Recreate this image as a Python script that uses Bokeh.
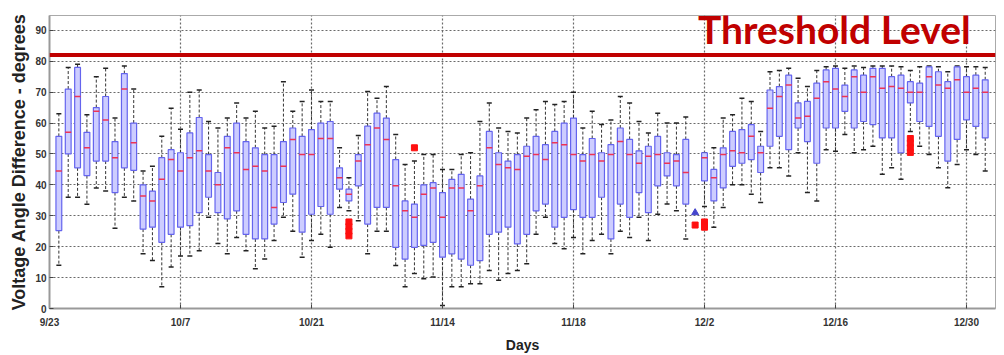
from bokeh.plotting import figure
from bokeh.models import Span, Label, FixedTicker, Range1d
from bokeh.embed import file_html
from bokeh.resources import INLINE

# Day index (0 = 9/23)
days = [1, 2, 3, 4, 5, 6, 7, 8, 9, 10, 11, 12, 13, 14, 15, 16, 17, 18, 19, 20,
        21, 22, 23, 24, 25, 26, 27, 28, 29, 30, 31, 32, 33, 34, 35, 36, 37, 38, 39, 40,
        41, 42, 43, 44, 45, 46, 47, 48, 49, 50, 51, 52, 53, 54, 55, 56, 57, 58, 59, 60,
        61, 62, 63, 64, 65, 66, 67, 68, 70, 71, 72, 73, 74, 75, 76, 77, 78, 79, 80,
        81, 82, 83, 84, 85, 86, 87, 88, 89, 90, 91, 92, 93, 94, 95, 96, 97, 98, 99, 100]
q1 = [25.2, 50, 45.5, 43, 47.7, 47.7, 37.5, 45.5, 44.7, 25.7, 26.3, 21.4, 24, 26.3, 26.8, 31, 36, 31, 29, 31.6,
      24, 22.5, 22.5, 27.3, 34.3, 37, 24.7, 30.5, 33, 30.5, 38.6, 34.8, 39.7, 27.3, 32.7, 32.7, 19.8, 16, 19.8, 20.4,
      21.4, 16.6, 17.7, 16, 14, 15.5, 24, 24.7, 26.3, 20.9, 24, 31.6, 33.8, 26.3, 29.5, 32, 29.5, 29.5, 36, 22.5,
      33.8, 29.5, 37.5, 31, 39.7, 42.9, 39.7, 33.8, 41.3, 34.8, 39, 46, 47, 48.2, 44, 52.5, 55.7, 51.4, 58.4,
      54, 47, 58.4, 58.4, 63.8, 58.4, 60.5, 59.5, 55.2, 55.2, 50.4, 66.5, 60.5, 58.9, 55.7, 47.7, 54.7, 61, 58.9, 55.2]
med = [44.5, 57, 68.6, 52, 63.8, 61, 48.8, 71, 53.6, 36.4, 34.8, 41.8, 48.2, 44.5, 48.8, 51, 44.5, 40, 52, 50.4,
       45, 46, 44.5, 32.7, 46, 54.7, 49.8, 49.8, 55, 55, 42.3, 37, 47.7, 53, 58.4, 54.7, 39.7, 31.6, 29.5, 37,
       39, 29.5, 39, 39, 31.6, 39.7, 52, 46.6, 45.5, 45, 49.3, 49.8, 48.2, 53.6, 53, 49.8, 47.7, 49.8, 47.7, 49.8,
       54, 49.8, 47, 49.3, 49.8, 47, 47.7, 44, 48.8, 42.3, 49.8, 51, 50.4, 55.7, 50.4, 64.8, 68.6, 72.3, 61.6,
       62.2, 68, 73.4, 71, 68.6, 75, 70, 75, 71.3, 71.8, 71.3, 70, 70, 75, 72.3, 71.3, 74, 70, 71.3, 70]
q3 = [55.7, 71, 78, 57, 65, 68.6, 54, 76, 60, 40, 38, 48.8, 51.4, 50.4, 56.8, 61.8, 49.8, 44, 55.7, 60,
      54, 52, 49.8, 49.8, 54, 58.4, 55.7, 57.9, 60, 60.5, 45.5, 38.6, 49.8, 59, 63.2, 61.6, 48.2, 34.8, 33.8, 40,
      40.7, 37.5, 41.8, 43.4, 35.4, 42.9, 57.3, 50.4, 47.7, 49.8, 52.5, 55.7, 53, 57.3, 60, 61.6, 49.8, 55, 50.4, 53,
      58.4, 54.7, 51, 52.5, 55.7, 50.4, 49.8, 54.7, 50.4, 45, 52, 57.3, 57.9, 59.5, 52.5, 70.7, 71.8, 75.5, 66.5,
      67, 72.9, 77.2, 77.7, 72.3, 77.2, 75.5, 77.7, 77.7, 75, 75.5, 73.4, 72.9, 78.2, 76.6, 73.4, 78.2, 75, 75.5, 74]
lo = [14, 36, 36, 33.7, 39, 38, 26, 36, 34.8, 17.7, 15.5, 7, 13.4, 17, 17, 18.7, 29.5, 21, 17.7, 23,
      18.7, 12.9, 16, 22, 29.5, 25, 16.6, 22, 24, 19.8, 32.7, 31.6, 28.4, 17.7, 25, 25, 13.9, 7, 11.3, 9.6,
      10.2, 1, 7, 7, 8, 8, 12.3, 9.1, 11.3, 12.3, 14.5, 24, 29.5, 21, 19.3, 23, 17.7, 22, 24, 17.7,
      25, 23, 29.5, 22, 30.5, 33.8, 31.6, 22.5, 33, 26.3, 32.7, 40, 40, 37, 34.3, 45.5, 45.5, 42.9, 50.4,
      37.5, 34.8, 51.4, 50.9, 56.3, 50.4, 51.4, 52.5, 43.4, 45.5, 41.8, 57.3, 52.5, 49.8, 45.5, 39.1, 46.6, 51.4, 49.8, 44.5]
hi = [63, 78, 79, 62.7, 75, 77.7, 61.6, 78.5, 71, 44.5, 46, 55.7, 64.8, 58, 70, 70.7, 60.5, 58.4, 61.6, 66.5,
      61.6, 63.8, 58.4, 59, 73.4, 63.8, 67, 70.7, 67, 67, 52, 42.3, 56, 70.2, 68, 71.8, 56.3, 46.6, 47.7, 49.8,
      49.8, 45, 45, 49.8, 50.4, 60.5, 66.5, 58.4, 57.3, 56.8, 61.6, 64.3, 67, 66, 67, 70, 58.4, 63.8, 59.5, 61,
      68.6, 66.5, 60.5, 56.8, 63.2, 60, 60, 62, 50.4, 52, 61.6, 62.7, 68, 67, 57.3, 76.6, 77, 77.7, 74.5,
      71.8, 77, 78.2, 78.5, 77.7, 78.5, 78, 78.5, 78.5, 78.5, 78.2, 77, 78.2, 78.5, 78.2, 76.6, 78.5, 78.2, 78.2, 78]

# Outliers
out_day = [32, 32, 32, 32, 39, 69, 70, 70, 70, 92, 92, 92, 92]
out_val = [28, 26.5, 25, 23.5, 52, 27, 28, 27, 26.3, 55, 53.5, 52, 50.5]
blue_day = [69]
blue_val = [31]

threshold = 82
tick_days = [0, 14, 28, 42, 56, 70, 84, 98]
tick_labels = ["9/23", "10/7", "10/21", "11/14", "11/18", "12/2", "12/16", "12/30"]

p = figure(width=1004, height=355, x_range=Range1d(0, 101.1), y_range=Range1d(0, 94.8),
           output_backend="svg", toolbar_location=None,
           min_border_left=49, min_border_right=9, min_border_top=15, min_border_bottom=46)
p.background_fill_color = "white"
p.border_fill_color = "white"
p.outline_line_color = "#aaaaaa"

# grids
p.xgrid.ticker = FixedTicker(ticks=tick_days)
p.ygrid.ticker = FixedTicker(ticks=list(range(0, 91, 10)))
for g in (p.xgrid, p.ygrid):
    g.grid_line_color = "#6a6a6a"
    g.grid_line_dash = "2 2"
    g.grid_line_width = 1.2

# axes
p.xaxis.ticker = FixedTicker(ticks=tick_days)
p.xaxis.major_label_overrides = {d: l for d, l in zip(tick_days, tick_labels)}
p.yaxis.ticker = FixedTicker(ticks=list(range(0, 91, 10)))
for ax in (p.xaxis, p.yaxis):
    ax.axis_line_color = "#999999"
    ax.axis_line_width = 2
    ax.major_tick_in = 4
    ax.major_tick_out = 0
    ax.major_tick_line_color = "#444444"
    ax.minor_tick_line_color = None
    ax.major_label_text_font = "Liberation Sans Narrow, Liberation Sans, sans-serif"
    ax.major_label_text_font_style = "bold"
    ax.major_label_text_font_size = "10px"
    ax.major_label_text_color = "#333333"
    ax.axis_label_text_font = "Liberation Sans, Arial, sans-serif"
    ax.axis_label_text_font_style = "bold"
    ax.axis_label_text_color = "#222222"
p.xaxis.major_label_standoff = 8
p.yaxis.major_label_standoff = 3
p.xaxis.axis_label = "Days"
p.xaxis.axis_label_text_font_size = "14px"
p.xaxis.axis_label_standoff = 6
p.yaxis.axis_label = "Voltage Angle Difference - degrees"
p.yaxis.axis_label_text_font_size = "18px"
p.yaxis.axis_label_standoff = 3

# whiskers
p.segment(x0=days, y0=q3, x1=days, y1=hi, line_color="#333333", line_dash="3 2", line_width=1)
p.segment(x0=days, y0=q1, x1=days, y1=lo, line_color="#333333", line_dash="3 2", line_width=1)
p.scatter(x=days, y=hi, marker="dash", size=5, line_color="#222222", line_width=1.5)
p.scatter(x=days, y=lo, marker="dash", size=5, line_color="#222222", line_width=1.5)

# boxes
p.vbar(x=days, width=0.62, bottom=q1, top=q3, fill_color="#cdcdff", line_color="#6464ee", line_width=1.2)
p.scatter(x=days, y=med, marker="dash", size=6, line_color="#ee3355", line_width=1.5)

# outliers
p.scatter(x=out_day, y=out_val, marker="square", size=6, fill_color="#ff1010", line_color="#ff1010")
p.scatter(x=blue_day, y=blue_val, marker="triangle", size=7, fill_color="#4444cc", line_color="#4444cc")

# threshold
p.add_layout(Span(location=threshold, dimension="width", line_color="#C00000", line_width=4))
p.add_layout(Label(x=69.3, y=90.3, text="Threshold Level", text_font="Lato", text_font_style="bold",
                   text_font_size="39px", text_color="#C00000", text_baseline="alphabetic"))

open("out.html", "w").write(file_html(p, INLINE))
